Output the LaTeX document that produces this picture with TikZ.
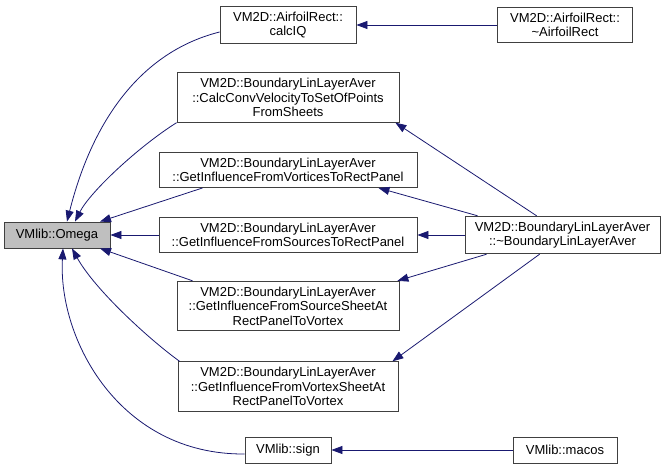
\documentclass[tikz,border=0pt]{standalone}
\usepackage{fontspec}
\setmainfont{Liberation Sans}
\usepackage{xcolor}
\usepackage{tikz}
\usetikzlibrary{arrows.meta,positioning,calc}

\definecolor{edgeblue}{HTML}{191970}
\definecolor{boxline}{HTML}{404040}
\definecolor{boxgray}{HTML}{BFBFBF}

\begin{document}
\begin{tikzpicture}[
    func/.style={rectangle, draw=boxline, line width=0.8pt, fill=white, align=center, inner ysep=5.5pt, minimum height=26pt, font=\fontsize{13}{14.5}\selectfont},
    focus/.style={func, fill=boxgray},
    call/.style={->, >={Triangle[length=11pt,width=8pt]}, draw=edgeblue, line width=0.8pt}
]
\useasboundingbox (-57pt,-236pt) rectangle (612pt,235pt);

% Callee
\node[focus, minimum width=106pt] (omega) {VMlib::Omega};

% Direct callers
\node[func, right of=omega, node distance=231pt, minimum width=258pt] (sources) {VM2D::BoundaryLinLayerAver\\::GetInfluenceFromSourcesToRectPanel};
\node[func, above of=sources, node distance=65pt, minimum width=258pt] (vortices) {VM2D::BoundaryLinLayerAver\\::GetInfluenceFromVorticesToRectPanel};
\node[func, above of=vortices, node distance=72.5pt, minimum width=222pt] (calcconv) {VM2D::BoundaryLinLayerAver\\::CalcConvVelocityToSetOfPoints\\FromSheets};
\node[func, above of=calcconv, node distance=72.5pt, minimum width=136pt] (calciq) {VM2D::AirfoilRect::\\calcIQ};
\node[func, below of=sources, node distance=71pt, minimum width=222pt] (sourcesheet) {VM2D::BoundaryLinLayerAver\\::GetInfluenceFromSourceSheetAt\\RectPanelToVortex};
\node[func, below of=sourcesheet, node distance=80.5pt, minimum width=220pt] (vortexsheet) {VM2D::BoundaryLinLayerAver\\::GetInfluenceFromVortexSheetAt\\RectPanelToVortex};
\node[func, below of=vortexsheet, node distance=63.5pt, minimum width=86pt] (sign) {VMlib::sign};

% Second level callers
\node[func, right of=calciq, node distance=277pt, minimum width=135pt] (airfoil) {VM2D::AirfoilRect::\\\textasciitilde AirfoilRect};
\node[func, right of=sources, node distance=274.5pt, minimum width=195pt] (dtor) {VM2D::BoundaryLinLayerAver\\::\textasciitilde BoundaryLinLayerAver};
\node[func, right of=sign, node distance=277pt, minimum width=104pt] (macos) {VMlib::macos};

% Calls into Omega
\draw[call] ([yshift=-7pt]calciq.west) .. controls (83pt,183pt) and (35pt,113pt) .. ([xshift=10pt]omega.north);
\draw[call] (calcconv.south west) .. controls (81pt,88pt) and (33pt,43pt) .. ([xshift=18pt]omega.north);
\draw[call] ([xshift=44pt]vortices.south west) -- ([xshift=43pt]omega.north);
\draw[call] (sources) -- (omega);
\draw[call] ([xshift=16pt]sourcesheet.north west) -- ([xshift=43pt]omega.south);
\draw[call] ([xshift=2pt]vortexsheet.north west) .. controls (93pt,-105pt) and (38pt,-55pt) .. ([xshift=15pt]omega.south);
\draw[call] ([yshift=-4pt]sign.west) .. controls (63pt,-220pt) and (1pt,-105pt) .. ([xshift=6pt]omega.south);

% Calls from the second level
\draw[call] (airfoil) -- (calciq);
\draw[call] ([xshift=72pt]dtor.north west) -- ([xshift=-4pt]calcconv.south east);
\draw[call] ([xshift=13pt]dtor.north west) -- ([xshift=-39pt]vortices.south east);
\draw[call] (dtor) -- (sources);
\draw[call] ([xshift=22pt]dtor.south west) -- ([xshift=-2pt]sourcesheet.north east);
\draw[call] ([xshift=75pt]dtor.south west) -- ([xshift=-6pt]vortexsheet.north east);
\draw[call] (macos) -- (sign);

\end{tikzpicture}
\end{document}
